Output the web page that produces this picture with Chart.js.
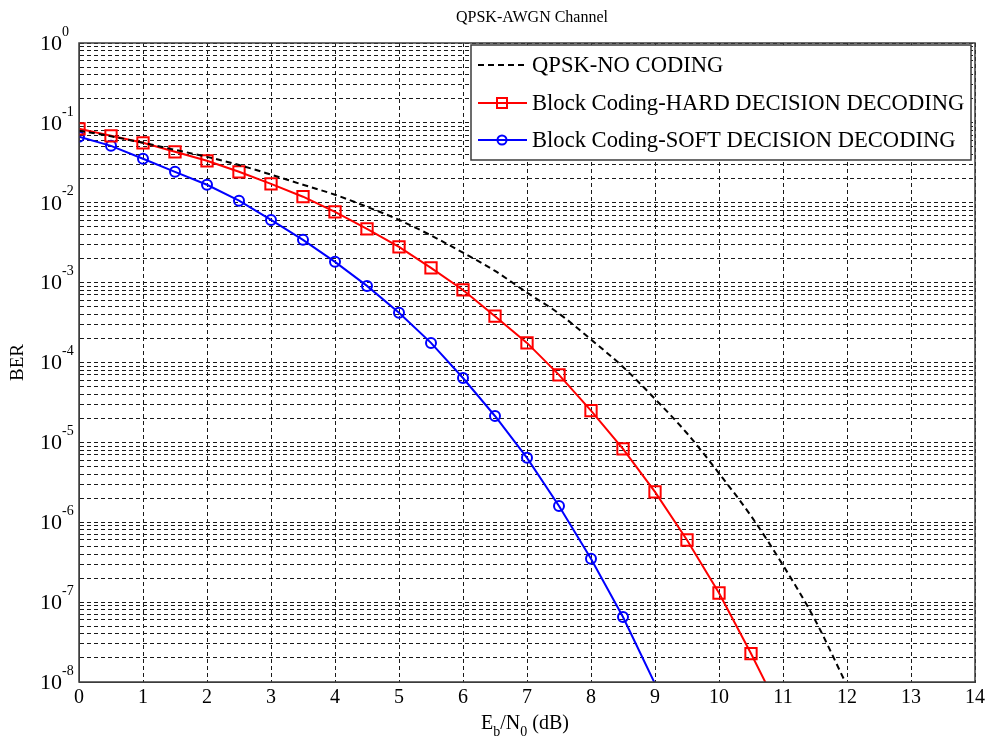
<!DOCTYPE html>
<html>
<head>
<meta charset="utf-8">
<title>QPSK-AWGN Channel</title>
<script src="https://cdn.jsdelivr.net/npm/chart.js@4.4.1/dist/chart.umd.min.js"></script>
<style>
  html, body { margin: 0; padding: 0; background: #fff; }
  #wrap { width: 989px; height: 744px; }
</style>
</head>
<body>
<div id="wrap"><canvas id="berChart" width="989" height="744"></canvas></div>
<script>
// Eb/N0 (dB) sample points
const EBN0_NOCODE = [0, 0.5, 1, 1.5, 2, 2.5, 3, 3.5, 4, 4.5, 5, 5.5, 6, 6.5, 7, 7.5, 8, 8.5, 9, 9.5, 10, 10.5, 11, 11.5, 12];
const EBN0_HARD = [0, 0.5, 1, 1.5, 2, 2.5, 3, 3.5, 4, 4.5, 5, 5.5, 6, 6.5, 7, 7.5, 8, 8.5, 9, 9.5, 10, 10.5, 11];
const EBN0_SOFT = [0, 0.5, 1, 1.5, 2, 2.5, 3, 3.5, 4, 4.5, 5, 5.5, 6, 6.5, 7, 7.5, 8, 8.5, 9];

// BER
const BER_NOCODE = [0.080, 0.068, 0.0563, 0.046, 0.0375, 0.0297, 0.0225, 0.0168, 0.0126, 0.0089, 0.0061, 0.0039,
  0.00237, 0.0014, 7.5e-4, 4.1e-4, 1.94e-4, 8.8e-5, 3.5e-5, 1.3e-5, 4.1e-6, 1.2e-6, 2.9e-7, 6e-8, 9e-9];
const BER_HARD = [0.0843, 0.0689, 0.0563, 0.0434, 0.0335, 0.0244, 0.0172, 0.0119, 0.0077, 0.0047, 0.0028, 0.00153,
  8.1e-4, 3.8e-4, 1.76e-4, 7e-5, 2.5e-5, 8.3e-6, 2.4e-6, 6e-7, 1.3e-7, 2.27e-8, 3.6e-9];
const BER_SOFT = [0.067, 0.0516, 0.0355, 0.0244, 0.0168, 0.0106, 0.0061, 0.00343, 0.00182, 9.1e-4, 4.2e-4, 1.76e-4,
  6.4e-5, 2.14e-5, 6.4e-6, 1.6e-6, 3.5e-7, 6.5e-8, 9.5e-9];

const SERIES_LABELS = ['QPSK-NO CODING', 'Block Coding-HARD DECISION DECODING', 'Block Coding-SOFT DECISION DECODING'];
const Y_EXPONENTS = [0, -1, -2, -3, -4, -5, -6, -7, -8];
const Y_MANTISSAS = [1, 2, 3, 4, 5, 6, 7, 8, 9];
const X_MIN = 0, X_MAX = 14;

const SERIF = '"Liberation Serif", "Times New Roman", serif';
const GRID_COLOR = '#1a1a1a';
const GRID_DASH = [4, 3];

function pts(xs, ys) {
  return xs.map((x, i) => ({ x, y: ys[i] }));
}

// hide markers that fall below the axis floor
const markerRadius = r => c => (c.parsed && c.parsed.y < 1e-8 ? 0 : r);

const decor = {
  id: 'decor',
  afterDraw(chart) {
    const { ctx, chartArea: a, scales: { y } } = chart;
    ctx.save();

    // axes box
    ctx.strokeStyle = '#3c3c3c';
    ctx.lineWidth = 1.5;
    ctx.setLineDash([]);
    ctx.strokeRect(a.left, a.top, a.right - a.left, a.bottom - a.top);

    // y decade labels: 10^k
    ctx.fillStyle = '#000';
    ctx.textBaseline = 'middle';
    Y_EXPONENTS.forEach(e => {
      const py = y.getPixelForValue(Math.pow(10, e));
      ctx.font = '22px ' + SERIF;
      ctx.textAlign = 'right';
      ctx.fillText('10', 62, py + 1);
      ctx.font = '14px ' + SERIF;
      ctx.textAlign = 'left';
      ctx.fillText(String(e), 62, py - 11);
    });

    // title
    ctx.font = '16px ' + SERIF;
    ctx.textAlign = 'center';
    ctx.fillText('QPSK-AWGN Channel', (a.left + a.right) / 2 + 5, 18);

    // y axis title
    ctx.save();
    ctx.translate(18, (a.top + a.bottom) / 2);
    ctx.rotate(-Math.PI / 2);
    ctx.font = '19px ' + SERIF;
    ctx.fillText('BER', 0, 0);
    ctx.restore();

    // x axis title with subscripts
    const parts = [['E', false], ['b', true], ['/N', false], ['0', true], [' (dB)', false]];
    const big = '20px ' + SERIF, small = '14px ' + SERIF;
    let total = 0;
    parts.forEach(([t, sub]) => { ctx.font = sub ? small : big; total += ctx.measureText(t).width; });
    let px = 525 - total / 2;
    ctx.textAlign = 'left';
    ctx.textBaseline = 'alphabetic';
    parts.forEach(([t, sub]) => {
      ctx.font = sub ? small : big;
      ctx.fillText(t, px, sub ? 736 : 729);
      px += ctx.measureText(t).width;
    });

    // legend
    const lx = 471, ly = 45, lw = 500, lh = 115;
    ctx.fillStyle = '#fff';
    ctx.fillRect(lx, ly, lw, lh);
    ctx.strokeStyle = '#3c3c3c';
    ctx.lineWidth = 1.5;
    ctx.strokeRect(lx, ly, lw, lh);
    const rows = [65, 103, 140];
    chart.data.datasets.forEach((ds, i) => {
      const ry = rows[i];
      ctx.strokeStyle = ds.borderColor;
      ctx.lineWidth = 2;
      ctx.setLineDash(ds.borderDash || []);
      ctx.beginPath();
      ctx.moveTo(478, ry);
      ctx.lineTo(527, ry);
      ctx.stroke();
      ctx.setLineDash([]);
      if (ds.pointStyle === 'rect') {
        ctx.strokeRect(497, ry - 5, 10, 10);
      } else if (ds.pointStyle === 'circle') {
        ctx.beginPath();
        ctx.arc(502, ry, 4.5, 0, Math.PI * 2);
        ctx.stroke();
      }
      ctx.fillStyle = '#000';
      ctx.font = '22.6px ' + SERIF;
      ctx.textBaseline = 'middle';
      ctx.fillText(ds.label, 532, ry + 1);
    });

    ctx.restore();
  }
};

new Chart(document.getElementById('berChart').getContext('2d'), {
  type: 'line',
  data: {
    datasets: [
      {
        label: SERIES_LABELS[0],
        data: pts(EBN0_NOCODE, BER_NOCODE),
        borderColor: '#000000',
        borderWidth: 2,
        borderDash: [6, 4],
        pointRadius: 0,
        pointStyle: false,
        cubicInterpolationMode: 'monotone',
        fill: false,
      },
      {
        label: SERIES_LABELS[1],
        data: pts(EBN0_HARD, BER_HARD),
        borderColor: '#ff0000',
        backgroundColor: 'transparent',
        borderWidth: 2,
        pointStyle: 'rect',
        pointRadius: markerRadius(8),
        pointBorderWidth: 2,
        pointBackgroundColor: 'transparent',
        pointBorderColor: '#ff0000',
        tension: 0,
        fill: false,
      },
      {
        label: SERIES_LABELS[2],
        data: pts(EBN0_SOFT, BER_SOFT),
        borderColor: '#0000ff',
        backgroundColor: 'transparent',
        borderWidth: 2,
        pointStyle: 'circle',
        pointRadius: markerRadius(5),
        pointBorderWidth: 2,
        pointBackgroundColor: 'transparent',
        pointBorderColor: '#0000ff',
        tension: 0,
        fill: false,
      },
    ],
  },
  options: {
    responsive: false,
    animation: false,
    layout: { padding: { top: 43, right: 12, left: 0, bottom: 0 } },
    plugins: { legend: { display: false }, title: { display: false }, tooltip: { enabled: false } },
    scales: {
      x: {
        type: 'linear',
        min: X_MIN,
        max: X_MAX,
        afterFit: s => { s.height = 62; },
        ticks: { stepSize: 1, color: '#000', font: { family: SERIF, size: 20 }, padding: 4, maxRotation: 0 },
        grid: { color: GRID_COLOR, lineWidth: 1, drawTicks: false },
        border: { dash: GRID_DASH, color: '#3c3c3c' },
      },
      y: {
        type: 'logarithmic',
        min: 1e-8,
        max: 1,
        afterFit: s => { s.width = 79; },
        afterBuildTicks: s => {
          const ticks = [];
          Y_EXPONENTS.slice().reverse().forEach(e => {
            Y_MANTISSAS.forEach(m => {
              const v = m * Math.pow(10, e);
              if (v <= 1) ticks.push({ value: v });
            });
          });
          s.ticks = ticks;
        },
        ticks: { autoSkip: false, callback: () => '' },
        grid: { color: GRID_COLOR, lineWidth: 1, drawTicks: false },
        border: { dash: GRID_DASH, color: '#3c3c3c' },
      },
    },
  },
  plugins: [decor],
});
</script>
</body>
</html>
